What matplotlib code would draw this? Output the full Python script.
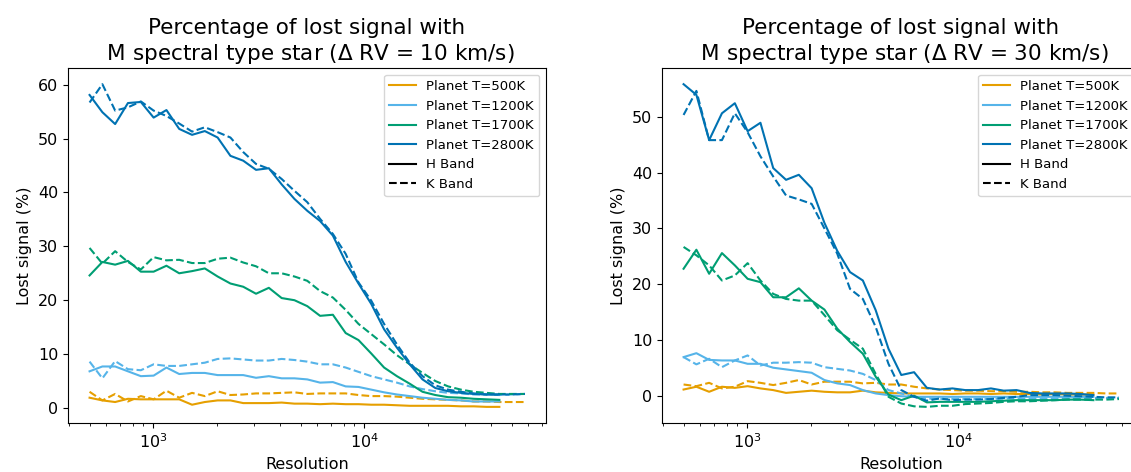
import matplotlib
matplotlib.use("Agg")
import matplotlib.pyplot as plt
from matplotlib.lines import Line2D

# Resolution grid (H band stops earlier than K band)
res_K = [500, 575, 661, 760, 875, 1006, 1157, 1330, 1530, 1759, 2023, 2326,
         2675, 3076, 3538, 4069, 4679, 5381, 6188, 7116, 8183, 9411, 10822,
         12446, 14313, 16460, 18928, 21768, 25033, 28788, 33106, 38072,
         43783, 50350, 57903]
res_H = res_K[:33]

temps = ["500K", "1200K", "1700K", "2800K"]
colors = ["#E69F00", "#56B4E9", "#009E73", "#0072B2"]

# ---- Delta RV = 10 km/s ----
h10_500 = [1.9, 1.4, 1.1, 1.7, 1.6, 1.6, 1.6, 1.6, 0.6, 1.1, 1.4, 1.4, 0.9, 0.9,
           0.9, 1.0, 0.8, 0.8, 0.7, 0.8, 0.7, 0.7, 0.6, 0.6, 0.5, 0.4, 0.4, 0.4,
           0.4, 0.3, 0.3, 0.2, 0.2]
k10_500 = [3.0, 1.4, 2.6, 1.2, 2.2, 1.6, 3.2, 1.9, 2.8, 2.2, 3.1, 2.4, 2.5, 2.7,
           2.7, 2.8, 2.9, 2.6, 2.7, 2.7, 2.7, 2.4, 2.2, 2.2, 2.1, 1.9, 1.7, 1.6,
           1.5, 1.4, 1.2, 1.2, 1.1, 1.1, 1.1]
h10_1200 = [6.8, 7.7, 7.7, 6.8, 5.9, 6.0, 7.5, 6.3, 6.5, 6.5, 6.1, 6.1, 6.1, 5.6,
            5.9, 5.5, 5.5, 5.3, 4.7, 4.8, 4.0, 3.9, 3.4, 2.9, 2.5, 2.2, 1.9, 1.7,
            1.5, 1.4, 1.2, 1.2, 1.2]
k10_1200 = [8.6, 5.5, 8.7, 7.2, 7.0, 8.1, 7.8, 7.8, 8.1, 8.4, 9.1, 9.2, 9.0, 8.8,
            8.8, 9.1, 8.9, 8.6, 8.1, 8.1, 7.5, 6.7, 5.9, 5.3, 4.7, 4.0, 3.5, 3.1,
            2.8, 2.7, 2.5, 2.5, 2.4, 2.5, 2.6]
h10_1700 = [24.6, 27.1, 26.6, 27.3, 25.3, 25.3, 26.4, 25.0, 25.4, 25.9, 24.4,
            23.1, 22.5, 21.2, 22.3, 20.4, 20.0, 18.9, 17.1, 17.3, 13.9, 12.6,
            10.1, 7.5, 5.9, 4.5, 3.0, 2.4, 2.0, 1.9, 1.7, 1.6, 1.5]
k10_1700 = [29.7, 26.8, 29.1, 27.1, 25.7, 28.0, 27.4, 27.5, 26.9, 26.9, 27.7,
            27.9, 27.0, 26.3, 25.0, 25.0, 24.4, 23.6, 21.7, 20.5, 18.2, 15.6,
            13.7, 11.8, 9.8, 8.1, 6.5, 5.0, 4.0, 3.4, 3.0, 2.8, 2.6, 2.6, 2.6]
h10_2800 = [58.1, 54.9, 52.7, 56.6, 56.8, 53.9, 55.3, 51.8, 50.7, 51.4, 50.2,
            46.8, 45.9, 44.2, 44.5, 41.5, 38.8, 36.6, 34.7, 32.0, 27.1, 23.1,
            19.3, 14.6, 11.2, 8.1, 5.3, 3.7, 3.1, 2.8, 2.6, 2.5, 2.5]
k10_2800 = [56.7, 60.1, 55.2, 55.8, 56.9, 55.2, 54.2, 52.8, 51.3, 52.1, 51.2,
            50.2, 47.5, 45.3, 44.4, 42.5, 40.3, 38.2, 35.1, 32.3, 28.6, 23.3,
            19.9, 15.6, 11.8, 8.4, 5.9, 4.2, 3.4, 3.0, 2.7, 2.5, 2.5, 2.5, 2.6]

# ---- Delta RV = 30 km/s ----
h30_500 = [1.2, 1.7, 0.8, 1.7, 1.5, 1.8, 1.4, 1.1, 0.6, 0.8, 1.0, 0.8, 0.7, 0.7,
           1.0, 0.7, 0.6, 0.5, 0.5, 0.5, 0.5, 0.4, 0.5, 0.5, 0.4, 0.5, 0.4, 0.4,
           0.3, 0.4, 0.3, 0.3, 0.3]
k30_500 = [2.1, 1.8, 2.4, 1.4, 1.7, 2.7, 2.4, 2.0, 2.4, 2.9, 2.1, 2.6, 2.6, 2.6,
           2.3, 2.4, 2.1, 2.1, 1.7, 1.4, 1.2, 1.1, 1.0, 1.0, 0.9, 0.9, 0.8, 0.8,
           0.7, 0.7, 0.6, 0.6, 0.6, 0.5, 0.5]
h30_1200 = [7.0, 7.7, 6.5, 6.4, 6.4, 5.8, 5.8, 5.1, 4.8, 4.5, 4.2, 2.9, 2.3, 2.0,
            1.1, 0.5, 0.2, 0.0, -0.1, -0.1, -0.1, -0.1, -0.1, -0.1, -0.1, -0.1,
            -0.1, -0.1, -0.1, -0.1, -0.1, -0.1, -0.1]
k30_1200 = [7.0, 5.7, 6.7, 5.2, 6.4, 7.3, 5.5, 6.0, 6.0, 6.1, 6.0, 5.2, 4.9, 4.6,
            4.0, 2.9, 1.1, 0.5, -0.1, -0.4, -0.5, -0.5, -0.5, -0.5, -0.5, -0.4,
            -0.4, -0.4, -0.4, -0.4, -0.3, -0.3, -0.3, -0.3, -0.3]
h30_1700 = [22.8, 26.2, 21.9, 25.6, 23.4, 21.0, 20.4, 17.7, 17.7, 19.3, 17.1,
            15.5, 12.1, 9.7, 7.6, 3.5, 0.3, -0.7, 0.1, -1.1, -1.0, -1.0, -1.0,
            -1.0, -0.9, -0.8, -0.7, -0.7, -0.7, -0.7, -0.6, -0.6, -0.7]
k30_1700 = [26.7, 25.2, 23.4, 20.7, 21.6, 23.8, 20.7, 18.3, 17.4, 17.1, 17.1,
            14.5, 11.8, 10.1, 8.5, 4.0, -0.1, -1.3, -1.8, -1.9, -1.7, -1.7,
            -1.4, -1.3, -1.2, -1.0, -0.9, -0.9, -0.8, -0.7, -0.6, -0.6, -0.6,
            -0.6, -0.5]
h30_2800 = [55.8, 53.9, 45.8, 50.6, 52.4, 47.4, 48.9, 40.8, 38.7, 39.6, 37.2,
            31.0, 26.0, 22.2, 20.7, 15.4, 8.5, 3.8, 4.3, 1.5, 1.2, 1.4, 1.1, 1.1,
            1.4, 1.0, 1.1, 0.6, 0.5, 0.5, 0.5, 0.4, 0.2]
k30_2800 = [50.3, 54.6, 45.8, 45.8, 50.6, 47.2, 42.9, 39.3, 35.9, 35.2, 34.4,
            30.0, 25.5, 19.2, 17.4, 12.4, 5.8, 1.1, -0.1, -0.8, -0.4, -0.7, -0.6,
            -0.6, -0.5, -0.3, -0.1, 0.2, 0.2, 0.2, 0.1, 0.0, -0.1, -0.2, -0.2]

panels = [
    ("10", [h10_500, h10_1200, h10_1700, h10_2800],
     [k10_500, k10_1200, k10_1700, k10_2800]),
    ("30", [h30_500, h30_1200, h30_1700, h30_2800],
     [k30_500, k30_1200, k30_1700, k30_2800]),
]

fig = plt.figure(figsize=(11.31, 4.72), dpi=100)
ax_pos = [[0.0601, 0.1038, 0.4226, 0.752],
          [0.5853, 0.1038, 0.4226, 0.752]]

for pos, (drv, h_sets, k_sets) in zip(ax_pos, panels):
    ax = fig.add_axes(pos)
    for c, h, k in zip(colors, h_sets, k_sets):
        ax.plot(res_H, h, color=c, lw=1.5)
        ax.plot(res_K, k, color=c, lw=1.5, ls="--")
    ax.set_xscale("log")
    ax.set_xlim(395, 72800)
    ax.set_title("Percentage of lost signal with\n M spectral type star "
                 "($\\Delta$ RV = " + drv + " km/s)", fontsize=15.5)
    ax.set_xlabel("Resolution", fontsize=11.5)
    ax.set_ylabel("Lost signal (%)", fontsize=11.5)
    ax.tick_params(labelsize=11.5)

    handles = [Line2D([], [], color=c, lw=1.5) for c in colors]
    handles += [Line2D([], [], color="k", lw=1.5),
                Line2D([], [], color="k", lw=1.5, ls="--")]
    labels = ["Planet T=" + t for t in temps] + ["H Band", "K Band"]
    ax.legend(handles, labels, loc="upper right", fontsize=9.5)

fig.savefig("out.png", dpi=100)
